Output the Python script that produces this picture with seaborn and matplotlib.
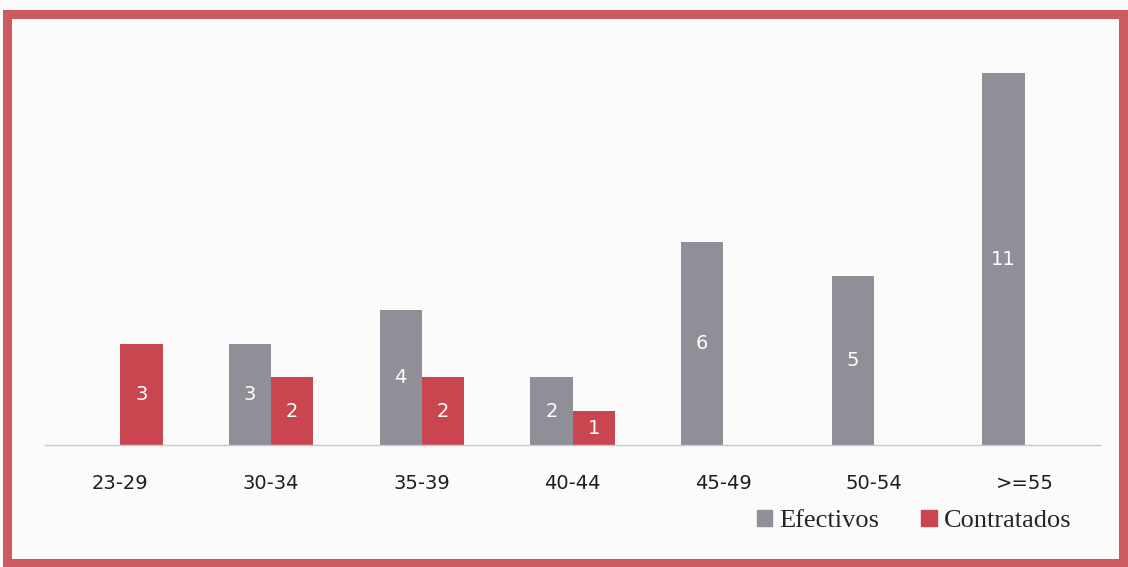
import pandas as pd
import matplotlib.pyplot as plt
import seaborn as sns
from matplotlib.patches import Rectangle, Patch

# Age groups and headcounts
age_groups = ['23-29', '30-34', '35-39', '40-44', '45-49', '50-54', '>=55']
efectivos = [0, 3, 4, 2, 6, 5, 11]
contratados = [3, 2, 2, 1, 0, 0, 0]
series_names = ['Efectivos', 'Contratados']

df = pd.DataFrame({
    'Idade': age_groups * 2,
    'Tipo': [series_names[0]] * len(age_groups) + [series_names[1]] * len(age_groups),
    'Valor': efectivos + contratados,
})

gray = '#8f8f97'
red = '#c94650'
frame_red = '#cc5a61'

sns.set_style('white')
plt.rcParams['font.family'] = ['DejaVu Sans']

fig = plt.figure(figsize=(11.28, 5.67), dpi=100, facecolor='#fbfbfb')
ax = fig.add_axes([45 / 1128, 122 / 567, 1055 / 1128, 385 / 567])
ax.set_facecolor('#fbfbfb')

sns.barplot(data=df, x='Idade', y='Valor', hue='Tipo', palette=[gray, red],
            width=0.56, saturation=1, linewidth=0, legend=False, ax=ax)

# White value labels in the middle of each bar (skip zeros)
for container in ax.containers:
    labels = [f'{int(b.get_height())}' if b.get_height() > 0 else '' for b in container]
    ax.bar_label(container, labels=labels, label_type='center', color='white',
                 fontsize=14)

ax.set_xlim(-0.5, 6.5)
ax.set_ylim(0, 11.39)
ax.set_xlabel('')
ax.set_ylabel('')
ax.set_yticks([])
ax.tick_params(axis='x', length=0, pad=21, labelsize=14, labelcolor='#1e1e1e')
for side in ['top', 'left', 'right']:
    ax.spines[side].set_visible(False)
ax.spines['bottom'].set_color('#c8c8c8')
ax.spines['bottom'].set_linewidth(1)
ax.spines['bottom'].set_linestyle((0, (2, 1)))

# Legend at lower right
handles = [Patch(color=gray), Patch(color=red)]
fig.legend(handles, series_names, loc='center', bbox_to_anchor=(914 / 1128, 1 - 521 / 567),
           ncol=2, frameon=False, handlelength=0.6, handleheight=0.6, handletextpad=0.25,
           columnspacing=1.6, prop={'family': 'Liberation Serif', 'size': 19})

# Red frame around the chart
fig.patches.append(Rectangle((7 / 1128, 4 / 567), 1116 / 1128, 549 / 567,
                             transform=fig.transFigure, fill=False,
                             edgecolor=frame_red, linewidth=6.5))

plt.savefig('out.png', dpi=100, facecolor=fig.get_facecolor())
